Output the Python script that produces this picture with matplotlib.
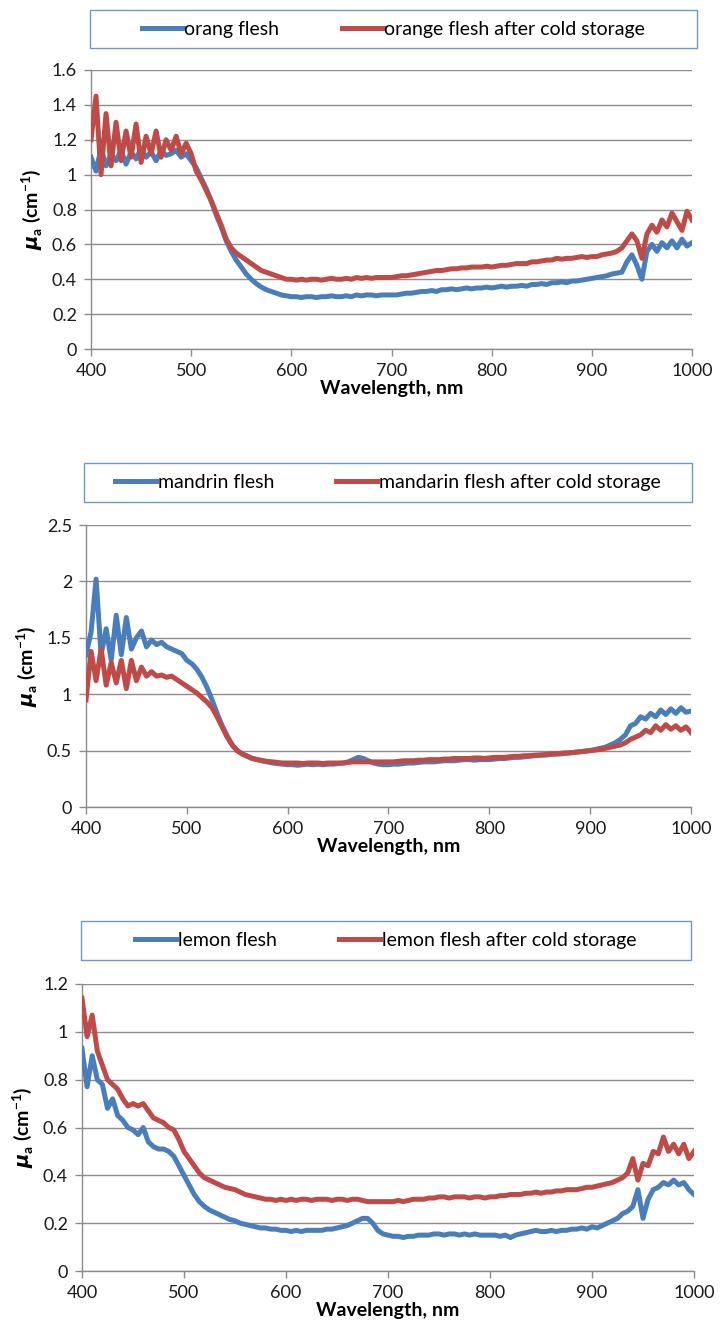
import matplotlib.pyplot as plt
import matplotlib.patches as patches
import numpy as np

plt.rcParams['font.family'] = ['Lato', 'DejaVu Sans']
plt.rcParams['mathtext.fontset'] = 'custom'
plt.rcParams['mathtext.rm'] = 'Lato:bold'
plt.rcParams['mathtext.it'] = 'DejaVu Sans:italic:bold'
plt.rcParams['mathtext.bf'] = 'Lato:bold'

# wavelength grid, nm (5 nm steps)
wavelength = np.arange(400, 1001, 5)

# orange
orange_flesh = (
    [1.10, 1.02, 1.15, 1.05, 1.12, 1.08, 1.14, 1.06, 1.13, 1.09, 1.15,
     1.10, 1.13, 1.08, 1.14, 1.11, 1.12, 1.14, 1.10, 1.12, 1.08]
    + [1.04, 0.98, 0.92, 0.85, 0.77, 0.70, 0.62, 0.56, 0.51, 0.47,
       0.43, 0.40, 0.375, 0.355, 0.34, 0.33, 0.32, 0.31, 0.305, 0.30]
    + [0.30, 0.295, 0.30, 0.30, 0.295, 0.30, 0.30, 0.305, 0.30, 0.30,
       0.305, 0.30, 0.31, 0.305, 0.31, 0.31, 0.305, 0.31, 0.31, 0.31]
    + [0.31, 0.315, 0.32, 0.32, 0.325, 0.33, 0.33, 0.335, 0.33, 0.34,
       0.34, 0.345, 0.34, 0.345, 0.35, 0.345, 0.35, 0.35, 0.355, 0.35]
    + [0.355, 0.36, 0.355, 0.36, 0.36, 0.365, 0.36, 0.37, 0.37, 0.375,
       0.37, 0.38, 0.38, 0.385, 0.38, 0.39, 0.39, 0.395, 0.40, 0.405]
    + [0.41, 0.415, 0.42, 0.43, 0.435, 0.44, 0.50, 0.54, 0.48, 0.40,
       0.56, 0.60, 0.56, 0.61, 0.58, 0.62, 0.58, 0.63, 0.59, 0.61]
)
orange_cold = (
    [1.20, 1.45, 1.00, 1.35, 1.05, 1.30, 1.08, 1.25, 1.10, 1.29, 1.07,
     1.22, 1.12, 1.25, 1.10, 1.20, 1.14, 1.22, 1.12, 1.18, 1.12]
    + [1.02, 0.97, 0.91, 0.85, 0.78, 0.71, 0.63, 0.58, 0.55, 0.53,
       0.51, 0.49, 0.47, 0.45, 0.44, 0.43, 0.42, 0.41, 0.40, 0.40]
    + [0.395, 0.40, 0.395, 0.40, 0.40, 0.395, 0.40, 0.405, 0.40, 0.40,
       0.405, 0.40, 0.41, 0.405, 0.41, 0.405, 0.41, 0.41, 0.41, 0.41]
    + [0.415, 0.42, 0.42, 0.425, 0.43, 0.435, 0.44, 0.445, 0.45, 0.45,
       0.455, 0.46, 0.46, 0.465, 0.465, 0.47, 0.47, 0.47, 0.475, 0.47]
    + [0.475, 0.48, 0.48, 0.485, 0.49, 0.49, 0.49, 0.50, 0.50, 0.505,
       0.51, 0.51, 0.52, 0.515, 0.52, 0.52, 0.525, 0.53, 0.525, 0.53]
    + [0.53, 0.54, 0.545, 0.55, 0.56, 0.58, 0.62, 0.66, 0.62, 0.52,
       0.66, 0.71, 0.67, 0.74, 0.70, 0.78, 0.73, 0.68, 0.79, 0.74]
)

# mandarin
mandarin_flesh = (
    [1.35, 1.55, 2.02, 1.35, 1.58, 1.30, 1.70, 1.35, 1.68, 1.40, 1.50,
     1.56, 1.42, 1.48, 1.44, 1.46, 1.42, 1.40, 1.38, 1.36, 1.30]
    + [1.27, 1.22, 1.15, 1.06, 0.95, 0.83, 0.72, 0.63, 0.55, 0.50,
       0.47, 0.45, 0.43, 0.42, 0.41, 0.40, 0.39, 0.385, 0.38, 0.375]
    + [0.375, 0.37, 0.375, 0.38, 0.375, 0.38, 0.375, 0.38, 0.38, 0.385,
       0.39, 0.40, 0.42, 0.44, 0.43, 0.41, 0.39, 0.38, 0.375, 0.375]
    + [0.38, 0.38, 0.385, 0.39, 0.39, 0.395, 0.40, 0.40, 0.40, 0.405,
       0.41, 0.41, 0.41, 0.415, 0.42, 0.42, 0.415, 0.42, 0.42, 0.42]
    + [0.425, 0.43, 0.43, 0.435, 0.44, 0.44, 0.445, 0.45, 0.455, 0.46,
       0.46, 0.465, 0.47, 0.47, 0.475, 0.48, 0.485, 0.49, 0.495, 0.50]
    + [0.51, 0.52, 0.53, 0.55, 0.57, 0.60, 0.64, 0.72, 0.74, 0.80,
       0.78, 0.83, 0.80, 0.86, 0.82, 0.87, 0.83, 0.88, 0.84, 0.85]
)
mandarin_cold = (
    [0.95, 1.38, 1.12, 1.40, 1.08, 1.28, 1.10, 1.30, 1.05, 1.30, 1.12,
     1.24, 1.16, 1.20, 1.16, 1.17, 1.15, 1.16, 1.13, 1.10, 1.07]
    + [1.04, 1.01, 0.97, 0.93, 0.88, 0.80, 0.71, 0.62, 0.55, 0.50,
       0.47, 0.45, 0.43, 0.42, 0.41, 0.405, 0.40, 0.395, 0.39, 0.39]
    + [0.39, 0.39, 0.385, 0.39, 0.39, 0.39, 0.385, 0.39, 0.39, 0.39,
       0.39, 0.395, 0.40, 0.40, 0.40, 0.40, 0.40, 0.40, 0.40, 0.40]
    + [0.40, 0.405, 0.41, 0.41, 0.41, 0.415, 0.415, 0.42, 0.42, 0.42,
       0.425, 0.425, 0.43, 0.43, 0.43, 0.43, 0.435, 0.435, 0.43, 0.435]
    + [0.44, 0.44, 0.44, 0.445, 0.45, 0.45, 0.455, 0.455, 0.46, 0.46,
       0.465, 0.47, 0.47, 0.475, 0.48, 0.48, 0.485, 0.49, 0.495, 0.50]
    + [0.505, 0.51, 0.52, 0.53, 0.54, 0.55, 0.57, 0.60, 0.62, 0.64,
       0.68, 0.66, 0.72, 0.68, 0.73, 0.69, 0.72, 0.68, 0.71, 0.66]
)

# lemon
lemon_flesh = (
    [0.93, 0.77, 0.90, 0.80, 0.78, 0.68, 0.72, 0.65, 0.63, 0.60, 0.59,
     0.57, 0.60, 0.54, 0.52, 0.51, 0.51, 0.50, 0.48, 0.44, 0.40]
    + [0.36, 0.32, 0.29, 0.27, 0.255, 0.245, 0.235, 0.225, 0.215, 0.21,
       0.20, 0.195, 0.19, 0.185, 0.18, 0.18, 0.175, 0.175, 0.17, 0.17]
    + [0.165, 0.17, 0.165, 0.17, 0.17, 0.17, 0.17, 0.175, 0.175, 0.18,
       0.185, 0.19, 0.20, 0.21, 0.22, 0.22, 0.20, 0.17, 0.155, 0.15]
    + [0.145, 0.145, 0.14, 0.145, 0.145, 0.15, 0.15, 0.15, 0.155, 0.155,
       0.15, 0.155, 0.155, 0.15, 0.155, 0.15, 0.155, 0.15, 0.15, 0.15]
    + [0.15, 0.145, 0.15, 0.14, 0.15, 0.155, 0.16, 0.165, 0.17, 0.165,
       0.165, 0.17, 0.165, 0.17, 0.17, 0.175, 0.175, 0.18, 0.175, 0.185]
    + [0.18, 0.19, 0.20, 0.21, 0.22, 0.24, 0.25, 0.27, 0.34, 0.22,
       0.30, 0.34, 0.35, 0.37, 0.36, 0.38, 0.36, 0.37, 0.34, 0.32]
)
lemon_cold = (
    [1.14, 0.98, 1.07, 0.92, 0.86, 0.80, 0.78, 0.76, 0.72, 0.69, 0.70,
     0.69, 0.70, 0.67, 0.64, 0.63, 0.62, 0.60, 0.59, 0.55, 0.50]
    + [0.47, 0.44, 0.41, 0.39, 0.38, 0.37, 0.36, 0.35, 0.345, 0.34,
       0.33, 0.32, 0.315, 0.31, 0.305, 0.30, 0.30, 0.295, 0.30, 0.295]
    + [0.30, 0.295, 0.30, 0.30, 0.295, 0.30, 0.30, 0.30, 0.295, 0.30,
       0.30, 0.295, 0.30, 0.30, 0.295, 0.29, 0.29, 0.29, 0.29, 0.29]
    + [0.29, 0.295, 0.29, 0.295, 0.30, 0.30, 0.30, 0.305, 0.305, 0.31,
       0.31, 0.305, 0.31, 0.31, 0.31, 0.305, 0.31, 0.31, 0.305, 0.31]
    + [0.31, 0.315, 0.315, 0.32, 0.32, 0.32, 0.325, 0.325, 0.33, 0.325,
       0.33, 0.33, 0.335, 0.335, 0.34, 0.34, 0.34, 0.345, 0.35, 0.35]
    + [0.355, 0.36, 0.365, 0.37, 0.38, 0.39, 0.41, 0.47, 0.38, 0.45,
       0.44, 0.50, 0.49, 0.56, 0.50, 0.53, 0.49, 0.53, 0.47, 0.50]
)

labels = [
    ('orang flesh', 'orange flesh after cold storage'),
    ('mandrin flesh', 'mandarin flesh after cold storage'),
    ('lemon flesh', 'lemon flesh after cold storage'),
]
series = [(orange_flesh, orange_cold), (mandarin_flesh, mandarin_cold),
          (lemon_flesh, lemon_cold)]
y_max = [1.6, 2.5, 1.2]
y_step = [0.2, 0.5, 0.2]
x_ticks = [400, 500, 600, 700, 800, 900, 1000]

blue = '#4a7ebb'
red = '#be4b48'
grid_c = '#8c8c8c'

W, H = 720, 1342
fig = plt.figure(figsize=(W / 100, H / 100), dpi=100)

# axes boxes in pixels: left, right, top, bottom
axes_px = [(91, 692, 70, 349), (86, 691, 525, 807), (82, 694, 984, 1271)]
legend_px = [(90, 697, 10, 48), (84, 692, 463, 502), (81, 691, 921, 960)]


def fig_rect(l, r, t, b):
    return [l / W, 1 - b / H, (r - l) / W, (b - t) / H]


for k in range(3):
    ax = fig.add_axes(fig_rect(*axes_px[k]))
    a, b = series[k]
    ax.plot(wavelength, a, color=blue, lw=3.6, label=labels[k][0],
            solid_joinstyle='round', zorder=3)
    ax.plot(wavelength, b, color=red, lw=3.6, label=labels[k][1],
            solid_joinstyle='round', zorder=4)
    ax.set_xlim(400, 1000)
    ax.set_ylim(0, y_max[k])
    yt = np.arange(0, y_max[k] + 1e-9, y_step[k])
    ax.set_yticks(yt)
    ax.set_yticklabels(['%g' % v for v in yt])
    ax.set_xticks(x_ticks)
    ax.yaxis.grid(True, color=grid_c, lw=1)
    ax.set_axisbelow(True)
    for s in ['top', 'right']:
        ax.spines[s].set_visible(False)
    for s in ['left', 'bottom']:
        ax.spines[s].set_color(grid_c)
        ax.spines[s].set_linewidth(1)
    ax.tick_params(axis='both', colors=grid_c, length=5, width=1,
                   labelsize=13, labelcolor='#1a1a1a', pad=5)
    ax.set_xlabel('Wavelength, nm', fontsize=14, fontweight='bold', labelpad=1)
    ax.set_ylabel(r'$\mu_\mathrm{a}$ (cm$^\mathrm{-1}$)', fontsize=14,
                  fontweight='bold', labelpad=5)

    # legend box above each panel
    l, r, t, bt = legend_px[k]
    rect = fig_rect(l, r, t, bt)
    fig.patches.append(patches.Rectangle((rect[0], rect[1]), rect[2], rect[3],
                                         transform=fig.transFigure,
                                         fill=False, edgecolor='#6f96c8', lw=1))
    ax.legend(loc='center', bbox_to_anchor=rect, bbox_transform=fig.transFigure,
              ncol=2, frameon=False, fontsize=14, handlelength=2.1,
              handletextpad=0.1, columnspacing=3.2, borderaxespad=0)

fig.savefig('out.png', dpi=100)
